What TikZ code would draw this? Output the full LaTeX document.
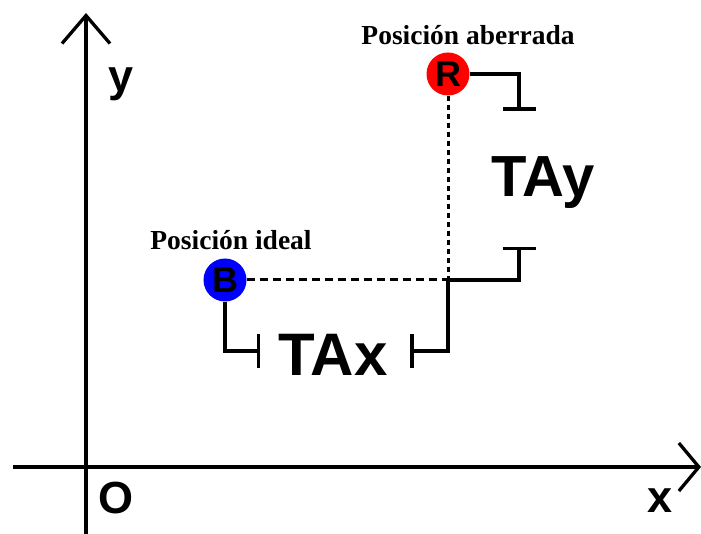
\documentclass[tikz,border=0pt]{standalone}
\usepackage{fontspec}
\setmainfont{Liberation Serif}
\setsansfont{Liberation Sans}
\usetikzlibrary{arrows.meta}

\begin{document}
\begin{tikzpicture}[
    x=1pt, y=-1pt,
    axis/.style={line width=3.3pt},
    bracket/.style={line width=3.5pt, -{Bar[width=33pt]}},
    guide/.style={line width=3pt, dash pattern=on 8pt off 5pt},
    dot/.style={circle, inner sep=0pt, minimum size=43pt, font=\sffamily\bfseries\fontsize{36}{36}\selectfont},
    big/.style={font=\sffamily\bfseries\fontsize{60}{60}\selectfont, inner sep=0pt, anchor=base},
    axlabel/.style={font=\sffamily\bfseries\fontsize{45}{45}\selectfont, inner sep=0pt, anchor=base},
    caption/.style={font=\bfseries\fontsize{27.5}{27.5}\selectfont, inner sep=0pt, anchor=base},
  ]
  \useasboundingbox (0,0) rectangle (701,534);

  % axes
  \coordinate (xs) at (13,467);
  \coordinate (xe) at (701,467);
  \coordinate (ys) at (86,534);
  \coordinate (ye) at (86,13);
  \draw[axis, -{Straight Barb[length=20pt, width=48pt]}] (xs) -- (xe);
  \draw[axis, -{Straight Barb[length=28pt, width=48pt]}] (ys) -- (ye);
  \node[axlabel] (ylab) at (121,92) {y};
  \node[axlabel] (olab) at (116,513) {O};
  \node[axlabel] (xlab) at (660,512) {x};

  % positions
  \node[dot, fill=blue] (B) at (225,280) {B};
  \node[dot, fill=red] (R) at (448,74) {R};
  \node[caption] (bcap) at (231,250) {Posición ideal};
  \node[caption] (rcap) at (468,45) {Posición aberrada};

  \coordinate (C) at (B -| R);
  \draw[guide] (B) -- (C);
  \draw[guide, dash pattern=on 5pt off 4pt] (R) -- (C);

  % TAx
  \coordinate (txl) at (260,351);
  \coordinate (txr) at (410,351);
  \draw[bracket] (B) |- (txl);
  \draw[bracket] (C) |- (txr);
  \node[big] (tax) at (333,375) {TAx};

  % TAy
  \coordinate (tyt) at (519,111);
  \coordinate (tyb) at (519,247);
  \draw[bracket] (R) -| (tyt);
  \draw[bracket] (C) -| (tyb);
  \node[big, font=\sffamily\bfseries\fontsize{58}{58}\selectfont] (tay) at (543,197) {TAy};
\end{tikzpicture}
\end{document}
